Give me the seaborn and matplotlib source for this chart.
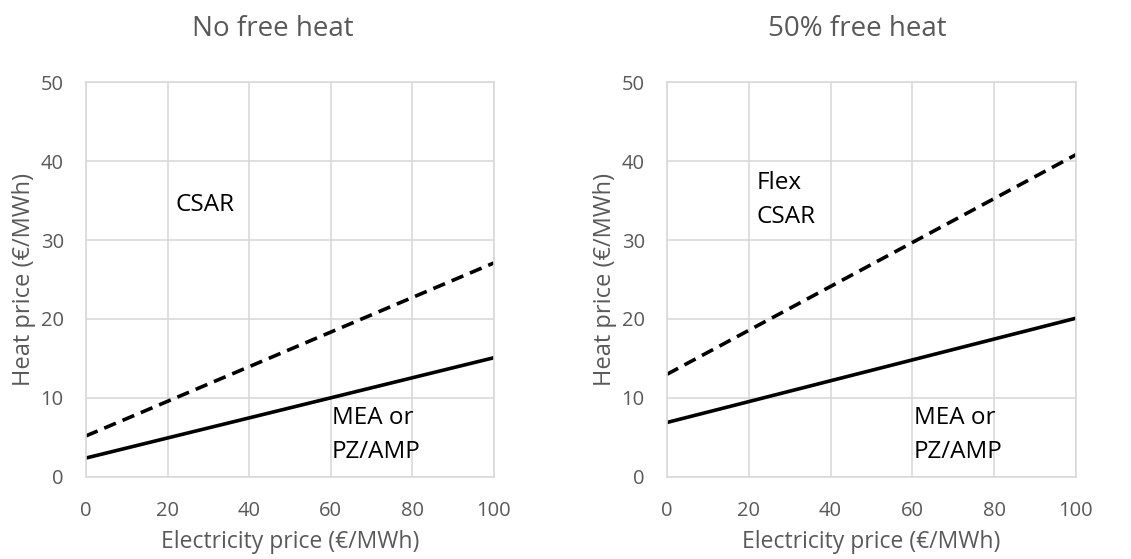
import numpy as np
import pandas as pd
import matplotlib
matplotlib.use("Agg")
import matplotlib.pyplot as plt
import seaborn as sns

# Data
elec_price = [0, 100]
no_free_mea = [2.4, 15.1]
no_free_csar = [5.2, 27.1]
half_free_mea = [6.9, 20.1]
half_free_csar = [13.0, 40.8]

titles = ["No free heat", "50% free heat"]
csar_labels = ["CSAR", "Flex\nCSAR"]
csar_label_y = [34.4, 35.1]

sns.set_theme(style="whitegrid")
plt.rcParams['font.family'] = ['Open Sans', 'DejaVu Sans']

fig = plt.figure(figsize=(11.31, 5.59), dpi=100)
ax1 = fig.add_axes([0.076, 0.1467, 0.3607, 0.7066])
ax2 = fig.add_axes([0.5897, 0.1467, 0.3616, 0.7066])

panels = [
    (ax1, no_free_mea, no_free_csar, 273),
    (ax2, half_free_mea, half_free_csar, 857),
]

grey = "#595959"
for i, (ax, mea, csar, tx) in enumerate(panels):
    df = pd.DataFrame({"x": elec_price, "mea": mea, "csar": csar})
    sns.lineplot(data=df, x="x", y="mea", ax=ax, color="black", linewidth=2.6)
    sns.lineplot(data=df, x="x", y="csar", ax=ax, color="black", linewidth=2.6,
                 linestyle=(0, (3.5, 2)))
    ax.set_xlim(0, 100)
    ax.set_ylim(0, 50)
    ax.set_xticks(np.arange(0, 101, 20))
    ax.set_yticks(np.arange(0, 51, 10))
    ax.grid(True, color="#d9d9d9", linewidth=1.2)
    for s in ax.spines.values():
        s.set_color("#d9d9d9")
        s.set_linewidth(1.2)
    ax.tick_params(colors=grey, labelsize=14.5, length=0)
    ax.tick_params(axis="x", pad=17)
    ax.tick_params(axis="y", pad=16)
    ax.set_xlabel("Electricity price (€/MWh)", color=grey, fontsize=16.5, labelpad=7)
    ax.set_ylabel("Heat price (€/MWh)", color=grey, fontsize=17, labelpad=3)
    ax.text(22, csar_label_y[i], csar_labels[i], fontsize=17.5, color="black",
            va="center", linespacing=1.55)
    ax.text(60.3, 5.3, "MEA or\nPZ/AMP", fontsize=17.5, color="black", va="center",
            linespacing=1.55)
    fig.text(tx / 1131, 1 - 29 / 559, titles[i], ha="center", va="center",
             fontsize=20, color=grey)

fig.savefig("out.png", dpi=100)
